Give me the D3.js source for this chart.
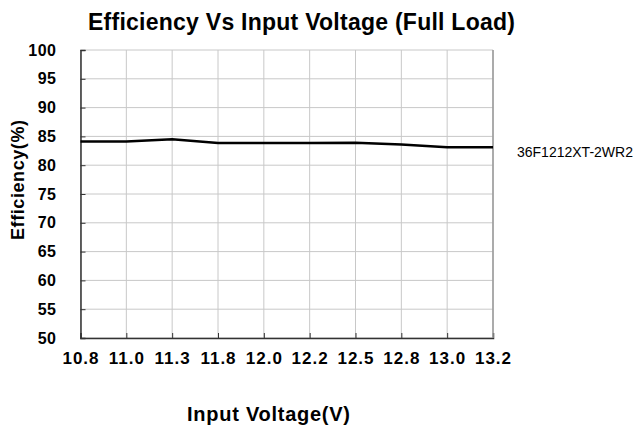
<!DOCTYPE html>
<html>
<head>
<meta charset="utf-8">
<script src="https://cdn.jsdelivr.net/npm/d3@7"></script>
<style>
	html, body { margin: 0; padding: 0; background: #fff; }
	#chart { width: 640px; height: 428px; }
</style>
</head>
<body>
<div id="chart"></div>
<script>
//data
const voltages = ['10.8', '11.0', '11.3', '11.8', '12.0', '12.2', '12.5', '12.8', '13.0', '13.2'];
const efficiency = [84.1, 84.1, 84.5, 83.85, 83.85, 83.85, 83.9, 83.6, 83.1, 83.1];
const yTicks = [50, 55, 60, 65, 70, 75, 80, 85, 90, 95, 100];
const seriesName = '36F1212XT-2WR2';

render();

function render() {
	const width = 640;
	const height = 428;
	const margin = { top: 50, right: 147, bottom: 90, left: 80.5 };
	const font = '"Liberation Sans", Arial, sans-serif';

	const svg = d3
		.select('#chart')
		.append('svg')
		.attr('width', width)
		.attr('height', height);

	const x = d3
		.scalePoint()
		.domain(voltages)
		.range([margin.left, width - margin.right]);

	const y = d3
		.scaleLinear()
		.domain([50, 100])
		.range([height - margin.bottom, margin.top]);

	//grid
	svg.append('g')
		.selectAll('line')
		.data(yTicks)
		.join('line')
		.attr('x1', margin.left)
		.attr('x2', width - margin.right)
		.attr('y1', (d) => y(d))
		.attr('y2', (d) => y(d))
		.style('stroke', '#c8c8c8')
		.style('stroke-width', 1);

	svg.append('g')
		.selectAll('line')
		.data(voltages)
		.join('line')
		.attr('x1', (d) => x(d))
		.attr('x2', (d) => x(d))
		.attr('y1', margin.top)
		.attr('y2', height - margin.bottom)
		.style('stroke', '#c8c8c8')
		.style('stroke-width', 1);

	//axes
	const yAxis = svg
		.append('g')
		.attr('transform', translation(margin.left, 0))
		.call(d3.axisLeft(y).tickValues(yTicks).tickSize(-5).tickPadding(24));
	yAxis.select('.domain').style('stroke', '#333').style('stroke-width', 1.5);
	yAxis.selectAll('.tick line').style('stroke', '#333');
	yAxis.selectAll('text')
		.style('font-family', font)
		.style('font-weight', 'bold')
		.style('font-size', '16px')
		.style('letter-spacing', '0.5px')
		.style('fill', '#000');

	const xAxis = svg
		.append('g')
		.attr('transform', translation(0, height - margin.bottom))
		.call(d3.axisBottom(x).tickSize(-5).tickPadding(14));
	xAxis.select('.domain').style('stroke', '#333').style('stroke-width', 1.5);
	xAxis.selectAll('.tick line').style('stroke', '#333');
	xAxis.selectAll('text')
		.style('font-family', font)
		.style('font-weight', 'bold')
		.style('font-size', '17px')
		.style('letter-spacing', '1px')
		.style('fill', '#000');

	//right border
	svg.append('line')
		.attr('x1', width - margin.right)
		.attr('x2', width - margin.right)
		.attr('y1', margin.top)
		.attr('y2', height - margin.bottom)
		.style('stroke', '#999')
		.style('stroke-width', 1.5);

	//line
	const line = d3
		.line()
		.x((d, i) => x(voltages[i]))
		.y((d) => y(d));

	svg.append('path')
		.datum(efficiency)
		.attr('d', line)
		.style('fill', 'none')
		.style('stroke', '#000')
		.style('stroke-width', 2.5);

	//texts
	svg.append('text')
		.attr('x', 88)
		.attr('y', 30)
		.attr('textLength', 427)
		.attr('lengthAdjust', 'spacing')
		.style('font-family', font)
		.style('font-weight', 'bold')
		.style('font-size', '23px')
		.text('Efficiency Vs Input Voltage (Full Load)');

	svg.append('text')
		.attr('transform', translation(24, 240) + ' rotate(-90)')
		.attr('textLength', 120)
		.attr('lengthAdjust', 'spacing')
		.style('font-family', font)
		.style('font-weight', 'bold')
		.style('font-size', '18px')
		.text('Efficiency(%)');

	svg.append('text')
		.attr('x', 187)
		.attr('y', 421)
		.attr('textLength', 163)
		.attr('lengthAdjust', 'spacing')
		.style('font-family', font)
		.style('font-weight', 'bold')
		.style('font-size', '20px')
		.text('Input Voltage(V)');

	svg.append('text')
		.attr('x', 517)
		.attr('y', 157)
		.style('font-family', font)
		.style('font-size', '14px')
		.text(seriesName);
}

//utils
function translation(x, y) {
	return `translate(${x}, ${y})`;
}
</script>
</body>
</html>
